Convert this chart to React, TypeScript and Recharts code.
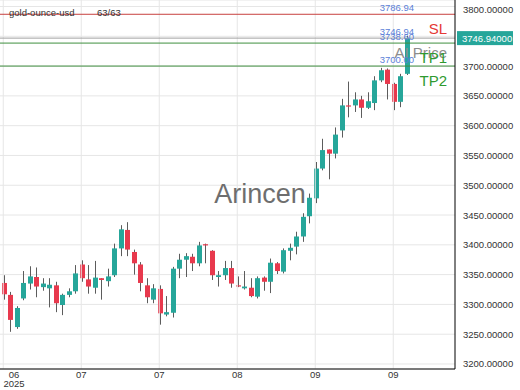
import React from "react";
import {
  ComposedChart,
  Bar,
  XAxis,
  YAxis,
  CartesianGrid,
  ReferenceLine,
} from "recharts";

const opens = [
  3336, 3316, 3262, 3310, 3335, 3346, 3329, 3327, 3332, 3299, 3316, 3322, 3367, 3342, 3328, 3344,
  3339, 3349, 3394, 3425, 3388, 3367, 3332, 3308, 3326, 3283, 3286, 3360, 3375, 3380, 3369, 3401,
  3390, 3346, 3349, 3361, 3332, 3327, 3328, 3313, 3345, 3338, 3369, 3355, 3390, 3397, 3414, 3448,
  3478, 3528, 3560, 3553, 3592, 3634, 3634, 3644, 3630, 3638, 3676, 3694, 3670, 3640, 3687,
];
const highs = [
  3349, 3321, 3297, 3356, 3364, 3362, 3344, 3344, 3338, 3318, 3327, 3366, 3374, 3366, 3373, 3344,
  3360, 3402, 3433, 3438, 3392, 3371, 3344, 3334, 3332, 3314, 3363, 3385, 3386, 3385, 3405, 3402,
  3391, 3356, 3373, 3373, 3347, 3356, 3344, 3347, 3347, 3377, 3371, 3394, 3402, 3422, 3453, 3486,
  3539, 3578, 3560, 3597, 3645, 3674, 3656, 3650, 3656, 3683, 3697, 3696, 3672, 3687, 3751,
];
const lows = [
  3308, 3254, 3259, 3307, 3325, 3312, 3323, 3295, 3287, 3282, 3312, 3318, 3338, 3318, 3318, 3308,
  3330, 3346, 3381, 3381, 3350, 3322, 3302, 3302, 3266, 3280, 3278, 3344, 3346, 3356, 3364, 3369,
  3341, 3330, 3341, 3328, 3329, 3325, 3312, 3310, 3323, 3319, 3351, 3352, 3374, 3384, 3405, 3436,
  3470, 3525, 3510, 3545, 3580, 3614, 3623, 3613, 3628, 3626, 3673, 3644, 3626, 3631, 3685,
];
const closes = [
  3317, 3274, 3294, 3336, 3347, 3330, 3335, 3333, 3302, 3316, 3322, 3352, 3344, 3330, 3345, 3341,
  3347, 3394, 3426, 3392, 3369, 3336, 3312, 3327, 3285, 3287, 3360, 3375, 3381, 3369, 3399, 3399,
  3349, 3349, 3361, 3335, 3330, 3330, 3314, 3344, 3338, 3370, 3356, 3391, 3395, 3414, 3447, 3479,
  3528, 3559, 3553, 3585, 3634, 3632, 3644, 3630, 3641, 3676, 3693, 3670, 3640, 3683, 3746.94,
];

// 63 candles plus empty slots on the right
const SLOTS = 70;
const tickIdx = [0, 12, 24, 36, 48, 60];
const tickLabels = ["06", "07", "07", "08", "09", "09"];
const yTicks = [3200, 3250, 3300, 3350, 3400, 3450, 3500, 3550, 3600, 3650, 3700, 3750, 3800];

const levelValues = [3786.94, 3746.94, 3738.6, 3700.0];
const levelNames = ["SL", "AI Price", "TP1", "TP2"];
const lastPrice = 3746.94;

const GREEN = "#26a69a";
const RED = "#e8394d";
const WICK = "#5c5c5c";
const FONT = "'Liberation Sans', Arial, sans-serif";

const levelStyle: Record<string, { line: string; text: string }> = {
  SL: { line: "#c8403f", text: "#e53935" },
  "AI Price": { line: "#a0a0a0", text: "#8c8c8c" },
  TP1: { line: "#3f8f3f", text: "#2f9a2f" },
  TP2: { line: "#3f8f3f", text: "#2f9a2f" },
};

const data = Array.from({ length: SLOTS }, (_, i) =>
  i < opens.length
    ? { i, range: [lows[i], highs[i]], o: opens[i], h: highs[i], l: lows[i], c: closes[i] }
    : { i, range: null }
);

function Candle(props: any) {
  const { x, y, width, height, payload } = props;
  if (payload.o == null) return null;
  const { o, h, l, c } = payload;
  const ratio = h > l ? height / (h - l) : 0;
  const cx = Math.round(x + width / 2) + 0.5;
  const top = y + (h - Math.max(o, c)) * ratio;
  const bot = y + (h - Math.min(o, c)) * ratio;
  return (
    <g>
      <line x1={cx} x2={cx} y1={y} y2={y + height} stroke={WICK} strokeWidth={1} />
      <rect
        x={cx - 2.5}
        y={top}
        width={5}
        height={Math.max(1, bot - top)}
        fill={c >= o ? GREEN : RED}
      />
    </g>
  );
}

function XTick(props: any) {
  const { x, y, payload } = props;
  const k = tickIdx.indexOf(payload.value);
  if (k < 0) return null;
  const tx = k === 0 ? Math.max(x, 14) : x;
  return (
    <g>
      <text x={tx} y={y + 9} textAnchor="middle" fontSize={9.5} fill="#333" fontFamily={FONT}>
        {tickLabels[k]}
      </text>
      {k === 0 && (
        <text x={tx} y={y + 18} textAnchor="middle" fontSize={9.5} fill="#333" fontFamily={FONT}>
          2025
        </text>
      )}
    </g>
  );
}

// price tag on the axis hides the tick label right under it
function YTick(props: any) {
  const { x, y, payload } = props;
  if (Math.abs(payload.value - lastPrice) < 12) return null;
  return (
    <text x={x} y={y + 3.5} fontSize={9.5} fill="#333" fontFamily={FONT}>
      {payload.value.toFixed(5)}
    </text>
  );
}

function LevelLabel(props: any) {
  const { viewBox, idx } = props;
  if (!viewBox) return null;
  const { x, y, width } = viewBox;
  const right = x + width;
  const name = levelNames[idx];
  const st = levelStyle[name];
  return (
    <g>
      <text x={right - 41} y={y - 3} textAnchor="end" fontSize={9.5} fill="#5b80d8" fontFamily={FONT}>
        {levelValues[idx].toFixed(2)}
      </text>
      <text x={right - 8} y={y + 20} textAnchor="end" fontSize={15} fill={st.text} fontFamily={FONT}>
        {name}
      </text>
      {levelValues[idx] === lastPrice && (
        <g>
          <rect x={right + 2} y={y - 7} width={56} height={14} fill={GREEN} />
          <text x={right + 7} y={y + 3.5} fontSize={9.5} fill="#fff" fontFamily={FONT}>
            {lastPrice.toFixed(5)}
          </text>
        </g>
      )}
    </g>
  );
}

export default function App() {
  return (
    <div style={{ position: "absolute", left: 0, top: 0, width: 520, height: 390, background: "#fff" }}>
      <ComposedChart
        width={520}
        height={390}
        data={data}
        margin={{ top: 0, right: 0, left: 0, bottom: 0 }}
      >
        <CartesianGrid vertical={false} stroke="#e6e6e6" />
        {tickIdx.map((t) => (
          <ReferenceLine key={"v" + t} x={t} stroke="#e6e6e6" />
        ))}
        <XAxis
          dataKey="i"
          type="category"
          interval={11}
          height={21}
          tickSize={0}
          tickMargin={0}
          tickLine={false}
          axisLine={{ stroke: "#000" }}
          tick={<XTick />}
        />
        <YAxis
          orientation="right"
          width={65}
          domain={[3191.6, 3810.9]}
          ticks={yTicks}
          allowDataOverflow
          tickLine={false}
          axisLine={{ stroke: "#000" }}
          tick={<YTick />}
        />
        <Bar dataKey="range" barSize={5} shape={<Candle />} isAnimationActive={false} />
        {levelValues.map((v, k) => (
          <ReferenceLine
            key={"l" + k}
            y={v}
            stroke={levelStyle[levelNames[k]].line}
            strokeWidth={1}
            label={<LevelLabel idx={k} />}
          />
        ))}
      </ComposedChart>
      <svg
        width={520}
        height={390}
        style={{ position: "absolute", left: 0, top: 0, pointerEvents: "none" }}
      >
        <text x={9} y={16} fontSize={9.5} fill="#333" fontFamily={FONT}>
          gold-ounce-usd
        </text>
        <text x={97} y={16} fontSize={9.5} fill="#333" fontFamily={FONT}>
          63/63
        </text>
        <text x={260} y={203} textAnchor="middle" fontSize={27} fill="#6e6e6e" fontFamily={FONT}>
          Arincen
        </text>
      </svg>
    </div>
  );
}
